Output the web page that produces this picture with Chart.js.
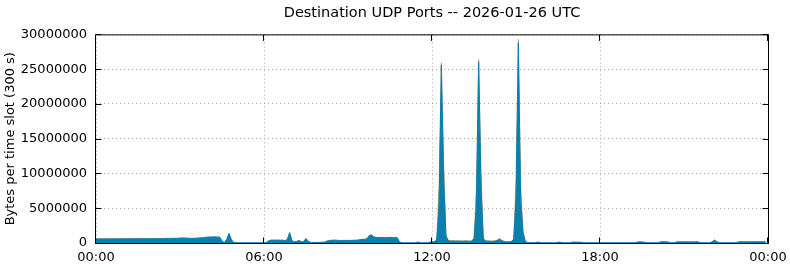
<!DOCTYPE html>
<html lang="en">
<head>
    <meta charset="UTF-8">
    <title>Destination UDP Ports</title>
    <script src="https://cdn.jsdelivr.net/npm/chart.js"></script>
    <style>
        body { margin: 0; background: #fff; }
    </style>
</head>
<body>
    <canvas id="udpChart" width="790" height="267"></canvas>

    <script>
        // one value per 5-minute slot (288 slots), one row per hour
        var mainPort = [
            560000, 570000, 560000, 565000, 570000, 575000, 570000, 580000, 575000, 580000, 585000, 580000,
            585000, 590000, 585000, 590000, 595000, 590000, 600000, 595000, 600000, 605000, 600000, 605000,
            610000, 605000, 615000, 610000, 620000, 615000, 620000, 625000, 620000, 630000, 625000, 630000,
            635000, 640000, 650000, 660000, 650000, 640000, 650000, 670000, 700000, 720000, 760000, 800000,
            830000, 840000, 850000, 850000, 840000, 830000, 300000, 40000, 500000, 1350000, 500000, 80000,
            30000, 20000, 20000, 30000, 20000, 20000, 30000, 20000, 20000, 30000, 20000, 30000,
            40000, 60000, 300000, 380000, 400000, 390000, 400000, 380000, 400000, 300000, 500000, 1450000,
            300000, 150000, 200000, 350000, 150000, 200000, 600000, 200000, 80000, 60000, 80000, 60000,
            80000, 100000, 100000, 250000, 320000, 370000, 390000, 380000, 350000, 330000, 340000, 350000,
            360000, 350000, 370000, 380000, 390000, 450000, 500000, 520000, 560000, 1000000, 1150000, 880000,
            780000, 760000, 770000, 760000, 750000, 760000, 770000, 760000, 750000, 770000, 200000, 20000,
            20000, 20000, 30000, 20000, 20000, 30000, 150000, 20000, 20000, 30000, 50000, 100000,
            150000, 200000, 400000, 4500000, 25600000, 9000000, 900000, 300000, 250000, 280000, 250000, 260000,
            250000, 240000, 260000, 250000, 240000, 250000, 600000, 5000000, 26000000, 8000000, 600000, 250000,
            250000, 240000, 230000, 250000, 350000, 550000, 300000, 200000, 150000, 150000, 200000, 500000,
            6000000, 28800000, 6000000, 1500000, 200000, 60000, 40000, 30000, 30000, 100000, 100000, 30000,
            30000, 30000, 40000, 30000, 30000, 30000, 100000, 100000, 30000, 30000, 30000, 30000,
            100000, 120000, 110000, 100000, 100000, 40000, 30000, 30000, 30000, 20000, 30000, 30000,
            30000, 20000, 30000, 30000, 20000, 30000, 30000, 20000, 30000, 30000, 20000, 30000,
            30000, 30000, 20000, 30000, 120000, 150000, 130000, 110000, 30000, 30000, 30000, 30000,
            30000, 30000, 150000, 170000, 160000, 150000, 40000, 30000, 30000, 150000, 160000, 150000,
            160000, 150000, 140000, 150000, 160000, 150000, 150000, 40000, 30000, 30000, 30000, 30000,
            150000, 400000, 200000, 40000, 30000, 30000, 30000, 30000, 30000, 30000, 30000, 120000,
            150000, 160000, 150000, 160000, 150000, 160000, 150000, 160000, 170000, 150000, 160000, 150000
        ];

        // other ports, stacked on top
        var otherPorts = [
            40000, 40000, 40000, 40000, 40000, 40000, 40000, 40000, 40000, 40000, 40000, 40000,
            40000, 40000, 40000, 40000, 40000, 40000, 40000, 40000, 40000, 40000, 40000, 40000,
            50000, 50000, 50000, 50000, 50000, 50000, 80000, 80000, 80000, 80000, 80000, 80000,
            120000, 150000, 100000, 80000, 60000, 50000, 60000, 50000, 40000, 40000, 40000, 40000,
            40000, 40000, 40000, 40000, 40000, 40000, 0, 0, 40000, 60000, 20000, 0,
            0, 0, 0, 0, 0, 0, 0, 0, 0, 0, 0, 0,
            0, 20000, 60000, 50000, 40000, 40000, 40000, 40000, 40000, 40000, 50000, 80000,
            40000, 80000, 50000, 60000, 40000, 50000, 80000, 40000, 20000, 20000, 20000, 20000,
            20000, 20000, 30000, 60000, 80000, 60000, 50000, 40000, 40000, 40000, 40000, 40000,
            40000, 40000, 40000, 40000, 40000, 40000, 40000, 40000, 40000, 60000, 80000, 60000,
            50000, 50000, 50000, 50000, 50000, 50000, 50000, 50000, 50000, 50000, 20000, 0,
            0, 0, 0, 0, 0, 0, 0, 0, 0, 0, 0, 0,
            20000, 30000, 100000, 3500000, 300000, 3000000, 300000, 80000, 60000, 60000, 60000, 60000,
            60000, 60000, 60000, 60000, 60000, 60000, 100000, 3000000, 400000, 2500000, 100000, 60000,
            60000, 60000, 60000, 60000, 80000, 100000, 60000, 40000, 30000, 30000, 40000, 100000,
            3000000, 500000, 2500000, 300000, 40000, 0, 0, 0, 0, 30000, 30000, 0,
            0, 0, 0, 0, 0, 0, 30000, 30000, 0, 0, 0, 0,
            30000, 30000, 30000, 30000, 30000, 0, 0, 0, 0, 0, 0, 0,
            0, 0, 0, 0, 0, 0, 0, 0, 0, 0, 0, 0,
            0, 0, 0, 0, 30000, 30000, 30000, 30000, 0, 0, 0, 0,
            0, 0, 30000, 30000, 30000, 30000, 0, 0, 0, 30000, 30000, 30000,
            30000, 30000, 30000, 30000, 30000, 30000, 30000, 0, 0, 0, 0, 0,
            30000, 40000, 30000, 0, 0, 0, 0, 0, 0, 0, 0, 30000,
            40000, 40000, 40000, 40000, 40000, 40000, 40000, 40000, 40000, 40000, 40000, 40000
        ];

        var xTickHours = [0, 6, 12, 18, 24];
        var xTickLabels = ['00:00', '06:00', '12:00', '18:00', '00:00'];
        var yTickValues = [0, 5000000, 10000000, 15000000, 20000000, 25000000, 30000000];

        function toPoints(values) {
            return values.map(function(v, i) {
                return { x: i / 12, y: v };
            });
        }

        // gnuplot-like frame with inward ticks on all four sides
        var framePlugin = {
            id: 'frame',
            afterDraw: function(chart) {
                var ctx = chart.ctx;
                var a = chart.chartArea;
                var l = a.left - 0.5, r = a.right + 0.5, t = a.top + 0.5, b = a.bottom + 0.5;
                ctx.save();
                ctx.strokeStyle = '#000';
                ctx.lineWidth = 1;
                ctx.beginPath();
                ctx.rect(l, t, r - l, b - t);
                chart.scales.y.ticks.forEach(function(tk) {
                    var y = Math.round(chart.scales.y.getPixelForValue(tk.value)) + 0.5;
                    ctx.moveTo(l, y); ctx.lineTo(l + 6, y);
                    ctx.moveTo(r, y); ctx.lineTo(r - 6, y);
                });
                chart.scales.x.ticks.forEach(function(tk) {
                    var x = Math.round(chart.scales.x.getPixelForValue(tk.value)) - 0.5;
                    ctx.moveTo(x, b); ctx.lineTo(x, b - 6);
                    ctx.moveTo(x, t); ctx.lineTo(x, t + 6);
                });
                ctx.stroke();
                ctx.restore();
            }
        };

        Chart.defaults.font.family = 'DejaVu Sans';
        Chart.defaults.font.size = 13;
        Chart.defaults.color = '#000';

        var ctx = document.getElementById('udpChart').getContext('2d');
        var udpChart = new Chart(ctx, {
            type: 'line',
            data: {
                datasets: [{
                    label: 'main',
                    data: toPoints(mainPort),
                    backgroundColor: '#0b7fad',
                    borderColor: '#0b7fad',
                    borderWidth: 1,
                    pointRadius: 0,
                    fill: 'origin',
                    tension: 0
                }, {
                    label: 'other',
                    data: toPoints(otherPorts),
                    backgroundColor: '#857c4a',
                    borderColor: '#857c4a',
                    borderWidth: 0.5,
                    pointRadius: 0,
                    fill: '-1',
                    tension: 0
                }]
            },
            options: {
                responsive: false,
                animation: false,
                devicePixelRatio: 1,
                layout: { padding: { left: 0, right: 22, top: 0, bottom: 0 } },
                plugins: {
                    legend: { display: false },
                    tooltip: { enabled: false },
                    title: {
                        display: true,
                        text: 'Destination UDP Ports -- 2026-01-26 UTC',
                        fullSize: false,
                        font: { size: 14.5, weight: 'normal' },
                        padding: { top: 5, bottom: 12 }
                    }
                },
                scales: {
                    x: {
                        type: 'linear',
                        min: 0,
                        max: 24,
                        afterBuildTicks: function(s) {
                            s.ticks = xTickHours.map(function(v) { return { value: v }; });
                        },
                        afterFit: function(s) {
                            s.height = 24;
                            s.paddingLeft = 0;
                            s.paddingRight = 0;
                        },
                        ticks: {
                            autoSkip: false,
                            maxRotation: 0,
                            padding: 7,
                            callback: function(v) { return xTickLabels[xTickHours.indexOf(v)]; }
                        },
                        grid: { color: '#a8a8a8', drawTicks: false, lineWidth: 1 },
                        border: { display: false, dash: [1, 3] }
                    },
                    y: {
                        stacked: true,
                        min: 0,
                        max: 30000000,
                        afterBuildTicks: function(s) {
                            s.ticks = yTickValues.map(function(v) { return { value: v }; });
                        },
                        afterFit: function(s) {
                            s.width = 96;
                            s.paddingTop = 0;
                            s.paddingBottom = 0;
                        },
                        ticks: {
                            padding: 9,
                            callback: function(v) { return String(v); }
                        },
                        title: {
                            display: true,
                            text: 'Bytes per time slot (300 s)',
                            font: { size: 13 },
                            padding: { top: 3, bottom: 4 }
                        },
                        grid: { color: '#a8a8a8', drawTicks: false, lineWidth: 1 },
                        border: { display: false, dash: [1, 3] }
                    }
                }
            },
            plugins: [framePlugin]
        });
    </script>
</body>
</html>
